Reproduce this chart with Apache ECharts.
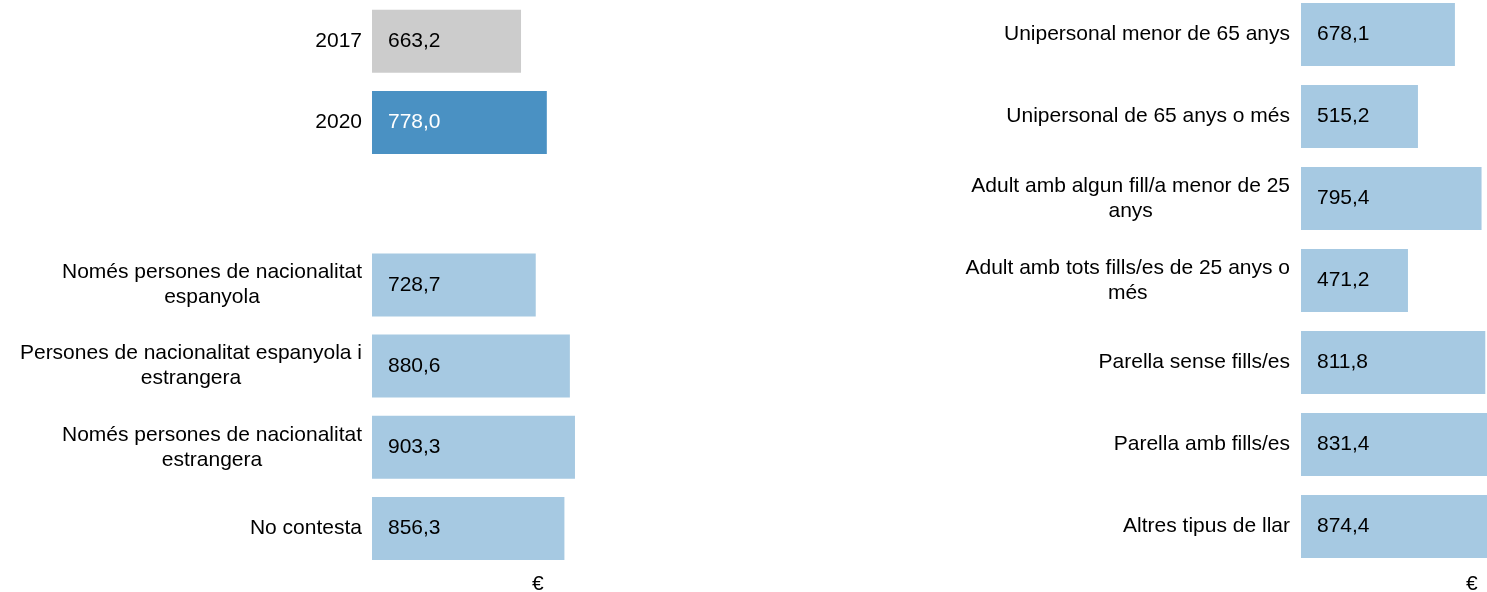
<!DOCTYPE html>
<html>
<head>
<meta charset="utf-8">
<script src="https://cdn.jsdelivr.net/npm/echarts@6/dist/echarts.min.js"></script>
<style>
html,body{margin:0;padding:0;background:#fff;}
#chart{width:1487px;height:592px;}
</style>
</head>
<body>
<div id="chart"></div>
<script>
// Left panel: years and household nationality
const leftCategories = [
  '2017',
  '2020',
  '',
  'Només persones de nacionalitat\nespanyola',
  'Persones de nacionalitat espanyola i\nestrangera',
  'Només persones de nacionalitat\nestrangera',
  'No contesta'
];
const leftValues = [663.2, 778.0, null, 728.7, 880.6, 903.3, 856.3];

// Right panel: household type
const rightCategories = [
  'Unipersonal menor de 65 anys',
  'Unipersonal de 65 anys o més',
  'Adult amb algun fill/a menor de 25\nanys',
  'Adult amb tots fills/es de 25 anys o\nmés',
  'Parella sense fills/es',
  'Parella amb fills/es',
  'Altres tipus de llar'
];
const rightValues = [678.1, 515.2, 795.4, 471.2, 811.8, 831.4, 874.4];

const unitLabel = '€';

const GRAY = '#cccccc', DARK = '#4a91c3', LIGHT = '#a6c9e2';
const FONT = '"Liberation Sans", Arial, sans-serif';
const FS = 21;

function fmt(v){ return v.toFixed(1).replace('.', ','); }

function buildData(values, isLeft){
  return values.map((v, i) => {
    if (v === null) return '-';
    let color = LIGHT, lc = '#000';
    if (isLeft && i === 0) color = GRAY;
    if (isLeft && i === 1) { color = DARK; lc = '#ffffff'; }
    return { value: v, itemStyle: { color: color }, label: { color: lc } };
  });
}

const chart = echarts.init(document.getElementById('chart'), null, {renderer: 'canvas'});

const catAxis = (gi, cats, margin) => ({
  type: 'category', gridIndex: gi, data: cats, inverse: true,
  axisLine: {show: false}, axisTick: {show: false},
  axisLabel: {
    color: '#000', fontSize: FS, fontFamily: FONT, lineHeight: 25, margin: margin, align: 'right',
    formatter: v => v.split('\n').map(s => '{c|' + s + '}').join('\n'),
    rich: {c: {align: 'center', color: '#000', fontSize: FS, fontFamily: FONT, lineHeight: 25}}
  }
});
const valAxis = (gi) => ({
  type: 'value', gridIndex: gi, min: 0, max: 1000, show: false
});
const barSeries = (gi, values, isLeft) => ({
  type: 'bar', xAxisIndex: gi, yAxisIndex: gi,
  data: buildData(values, isLeft),
  barWidth: 63,
  clip: false,
  animation: false,
  label: {
    show: true, position: 'insideLeft', distance: 16,
    fontSize: FS, fontFamily: FONT,
    formatter: p => fmt(p.value)
  }
});

chart.setOption({
  backgroundColor: '#fff',
  textStyle: {fontFamily: FONT},
  grid: [
    {left: 372, top: 0.7, width: 224.7, height: 568.4, containLabel: false, outerBoundsMode: 'none'},
    {left: 1301, top: -6.5, width: 227, height: 574, containLabel: false, outerBoundsMode: 'none'}
  ],
  xAxis: [valAxis(0), valAxis(1)],
  yAxis: [catAxis(0, leftCategories, 10), catAxis(1, rightCategories, 11)],
  series: [barSeries(0, leftValues, true), barSeries(1, rightValues, false)],
  graphic: [
    {type: 'text', left: 532, top: 574, style: {text: unitLabel, fontSize: FS, fontFamily: FONT, fill: '#000'}},
    {type: 'text', left: 1466, top: 574, style: {text: unitLabel, fontSize: FS, fontFamily: FONT, fill: '#000'}}
  ]
});
</script>
</body>
</html>
